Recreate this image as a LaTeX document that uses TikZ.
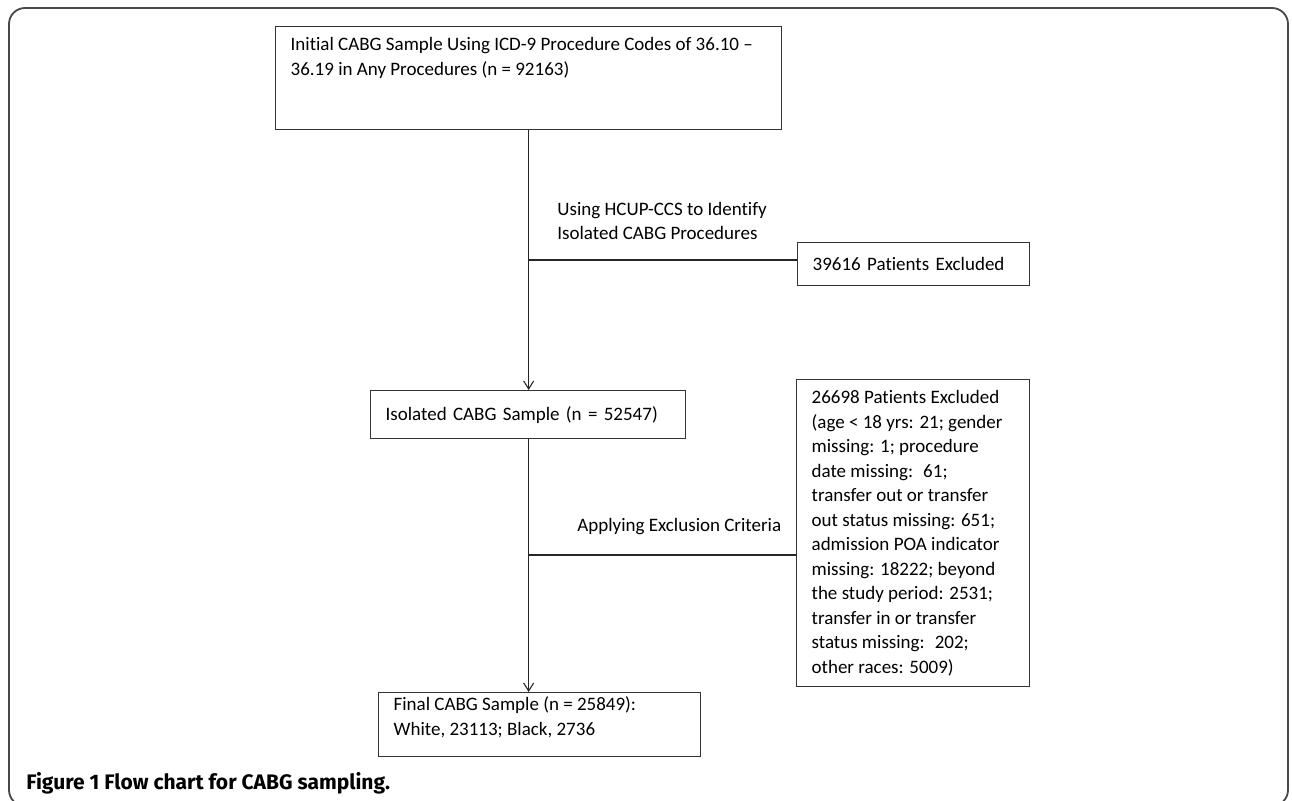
\documentclass[tikz,border=0pt]{standalone}
\usepackage{fontspec}
\setmainfont{Carlito}[Ligatures={TeX,NoCommon}]
\newfontfamily\capfont{Fira Sans}
\usetikzlibrary{arrows.meta, calc}
\definecolor{boxcol}{HTML}{333333}
\definecolor{framecol}{HTML}{484848}

% text pinned to the top of a box of fixed size
\newcommand{\topfill}[3]{\parbox[c][#2][t]{#1}{#3}}

\begin{document}
\begin{tikzpicture}[x=0.5pt, y=-0.5pt,
  flowbox/.style={draw=boxcol, line width=0.65pt, anchor=north west,
    inner xsep=7.5pt, inner ysep=5.5pt, align=left,
    font=\fontsize{9.5pt}{12.25pt}\selectfont},
  link/.style={draw=black!85, line width=0.55pt},
  arr/.style={link, -{Straight Barb[length=4pt, width=5pt]}},
  note/.style={anchor=west, align=left, inner sep=0pt,
    font=\fontsize{9.5pt}{12.25pt}\selectfont}]
  \useasboundingbox (0,0) rectangle (1292,801);
  % outer frame
  \draw[framecol, line width=0.9pt, rounded corners=8pt] (9,8) rectangle (1288,806);

  % main column
  \node[flowbox] (init) at (275,26)
    {\topfill{238pt}{40.5pt}{Initial CABG Sample Using ICD-9 Procedure Codes of 36.10 –\\36.19 in Any Procedures (n = 92163)}};
  \node[flowbox, text width=142.5pt, minimum height=24pt] (iso) at (370,390)
    {Isolated CABG Sample (n = 52547)};
  \node[flowbox, inner ysep=2pt] (final) at (378,692)
    {\topfill{146pt}{28pt}{Final CABG Sample (n = 25849):\\White, 23113; Black, 2736}};

  % excluded patients
  \node[flowbox, text width=101pt, minimum height=21.5pt] (skip1) at (797,242)
    {39616 Patients Excluded};
  \node[flowbox] (skip2) at (796,379)
    {\topfill{101.5pt}{142.5pt}{26698 Patients Excluded\\(age < 18 yrs: 21; gender\\missing: 1; procedure\\date missing:~ 61;\\transfer out or transfer\\out status missing: 651;\\admission POA indicator\\missing: 18222; beyond\\the study period: 2531;\\transfer in or transfer\\status missing:~ 202;\\other races: 5009)}};

  % step labels
  \node[note] (lbl1) at (557,221) {Using HCUP-CCS to Identify\\Isolated CABG Procedures};
  \node[note] (lbl2) at (577,527) {Applying Exclusion Criteria};

  \coordinate (fork1) at (528,260);
  \coordinate (fork2) at (528,555);
  \draw[arr] (init.south) -- (init.south |- iso.north);
  \draw[link] (fork1) -- (fork1 -| skip1.west);
  \draw[arr] (init.south |- iso.south) -- (init.south |- final.north);
  \draw[link] (fork2) -- (fork2 -| skip2.west);

  \node[anchor=west, inner sep=0pt, font=\capfont\bfseries\fontsize{10.5pt}{12pt}\selectfont] (cap) at (26,783)
    {Figure 1 Flow chart for CABG sampling.};
\end{tikzpicture}
\end{document}
